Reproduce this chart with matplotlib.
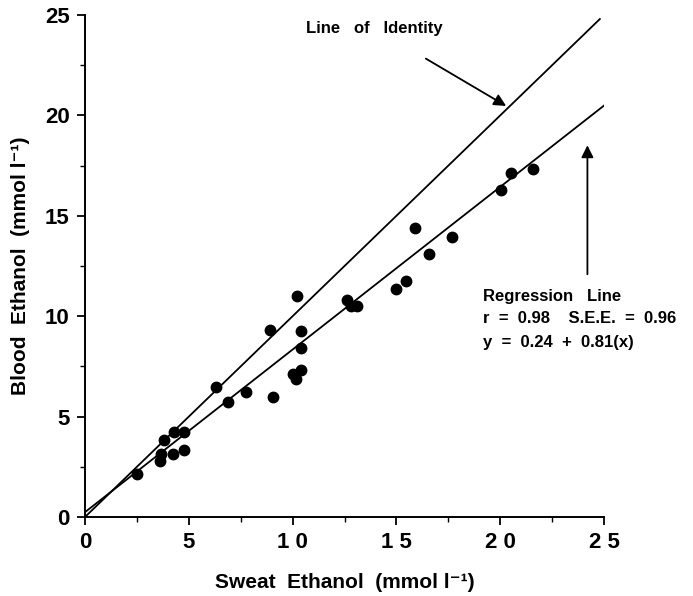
import matplotlib
matplotlib.use("Agg")
import matplotlib.pyplot as plt
import numpy as np

plt.rcParams['font.family'] = ['Liberation Sans', 'DejaVu Sans']
plt.rcParams['font.weight'] = 'bold'

sweat = [2.5, 3.6, 3.65, 3.8, 4.25, 4.3, 4.75, 4.75, 6.3, 6.9, 7.75, 8.9, 9.05,
         10.0, 10.15, 10.2, 10.4, 10.4, 10.4, 12.6, 12.8, 13.1, 15.0, 15.45,
         15.9, 16.55, 17.7, 20.05, 20.5, 21.6]
blood = [2.15, 2.8, 3.15, 3.85, 3.15, 4.25, 3.35, 4.25, 6.45, 5.75, 6.2, 9.3, 6.0,
         7.1, 6.85, 11.0, 7.3, 8.4, 9.25, 10.8, 10.5, 10.5, 11.35, 11.75,
         14.4, 13.1, 13.95, 16.3, 17.15, 17.35]
intercept, slope = 0.24, 0.81
x_ticks = [0, 5, 10, 15, 20, 25]
x_ticklabels = ['0', '5', '1 0', '1 5', '2 0', '2 5']
y_ticks = [0, 5, 10, 15, 20, 25]

fig = plt.figure(figsize=(6.93, 5.96), dpi=100)
ax = fig.add_axes([0.1227, 0.1326, 0.7489, 0.8422])

# identity & regression lines
xl = np.array([0, 25])
ax.plot([0, 24.8], [0, 24.8], color='black', lw=1.3)
ax.plot(xl, intercept + slope * xl, color='black', lw=1.3)

ax.plot(sweat, blood, 'o', color='black', ms=7.5)

# annotations
txt = dict(fontsize=12, fontweight='bold')
ax.text(13.95, 24.35, 'Line   of   Identity', ha='center', va='center', **txt)
ax.annotate('', xy=(20.4, 20.4), xytext=(16.3, 22.9),
            arrowprops=dict(arrowstyle='-|>', color='black', lw=1.3,
                            mutation_scale=18))
ax.annotate('', xy=(24.2, 18.65), xytext=(24.2, 11.95),
            arrowprops=dict(arrowstyle='-|>', color='black', lw=1.3,
                            mutation_scale=18))
ax.text(19.15, 11.0, 'Regression   Line', ha='left', va='center', **txt)
ax.text(19.15, 9.9, 'r  =  0.98    S.E.E.  =  0.96', ha='left', va='center', **txt)
ax.text(19.15, 8.7, 'y  =  0.24  +  0.81(x)', ha='left', va='center', **txt)

# axes styling
ax.set_xlim(0, 25)
ax.set_ylim(0, 25)
for s in ['top', 'right']:
    ax.spines[s].set_visible(False)
for s in ['left', 'bottom']:
    ax.spines[s].set_linewidth(1.4)
ax.set_xticks(x_ticks)
ax.set_xticklabels(x_ticklabels)
ax.set_yticks(y_ticks)
ax.set_xticks(np.arange(2.5, 25, 5), minor=True)
ax.set_yticks(np.arange(2.5, 25, 5), minor=True)
ax.tick_params(which='major', length=6, width=1.3, labelsize=16, pad=5)
ax.tick_params(which='minor', length=3.5, width=1.0)
for lab in ax.get_xticklabels() + ax.get_yticklabels():
    lab.set_fontweight('bold')

ax.set_xlabel('Sweat  Ethanol  (mmol l\u207b\u00b9)', fontsize=15,
              fontweight='bold', labelpad=14)
ax.set_ylabel('Blood  Ethanol  (mmol l\u207b\u00b9)', fontsize=15,
              fontweight='bold', labelpad=11)

fig.savefig('out.png', dpi=100)
